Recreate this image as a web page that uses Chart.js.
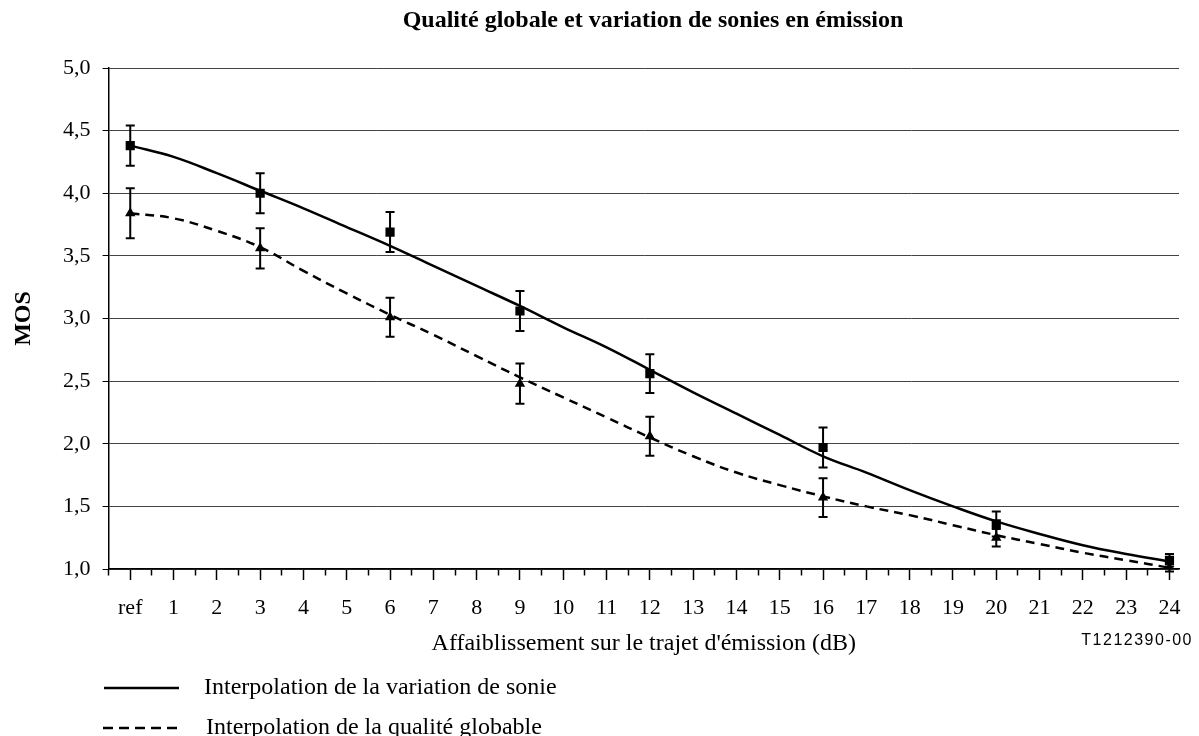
<!DOCTYPE html>
<html>
<head>
<meta charset="utf-8">
<script src="https://cdn.jsdelivr.net/npm/chart.js@4"></script>
<style>
  html, body { margin: 0; padding: 0; background: #fff; }
</style>
</head>
<body>
<canvas id="mosChart" width="1199" height="736"></canvas>
<script>
// Interpolation curves, one value per dB step (0 = ref)
const curveDb = [0, 1, 2, 3, 4, 5, 6, 7, 8, 9, 10, 11, 12, 13, 14, 15, 16, 17, 18, 19, 20, 21, 22, 23, 24];
const sonieCurve = [4.38, 4.29, 4.16, 4.02, 3.88, 3.73, 3.58, 3.42, 3.26, 3.10, 2.93, 2.77, 2.59, 2.41, 2.24, 2.07, 1.90, 1.77, 1.63, 1.50, 1.38, 1.28, 1.19, 1.12, 1.06];
const qualiteCurve = [3.84, 3.80, 3.70, 3.57, 3.38, 3.20, 3.03, 2.87, 2.70, 2.53, 2.37, 2.21, 2.05, 1.90, 1.77, 1.67, 1.58, 1.50, 1.43, 1.35, 1.27, 1.20, 1.13, 1.07, 1.01];

// Measured points with their error bars
const measureDb = [0, 3, 6, 9, 12, 16, 20, 24];
const sonieMos = [4.38, 4.00, 3.69, 3.06, 2.56, 1.97, 1.36, 1.07];
const sonieErr = [0.16, 0.16, 0.16, 0.16, 0.155, 0.16, 0.10, 0.05];
const qualiteMos = [3.84, 3.56, 3.01, 2.48, 2.06, 1.57, 1.25, 1.01];
const qualiteErr = [0.20, 0.16, 0.155, 0.16, 0.155, 0.155, 0.07, 0.03];

const xTickLabels = ['ref', '1', '2', '3', '4', '5', '6', '7', '8', '9', '10', '11', '12', '13', '14', '15', '16', '17', '18', '19', '20', '21', '22', '23', '24'];
const yTickLabels = ['1,0', '1,5', '2,0', '2,5', '3,0', '3,5', '4,0', '4,5', '5,0'];

const SERIF = '"Liberation Serif", "Times New Roman", serif';

const toPoints = (xs, ys) => xs.map((x, i) => ({ x: x, y: ys[i] }));

// vertical error bars with small caps
const errorBars = {
  id: 'errorBars',
  afterDatasetsDraw(chart) {
    const { ctx, scales: { x, y } } = chart;
    ctx.save();
    ctx.strokeStyle = '#000';
    ctx.lineWidth = 2;
    chart.data.datasets.forEach(ds => {
      if (!ds.errors) return;
      ds.data.forEach((p, i) => {
        const px = x.getPixelForValue(p.x);
        const top = y.getPixelForValue(p.y + ds.errors[i]);
        const bot = y.getPixelForValue(p.y - ds.errors[i]);
        ctx.beginPath();
        ctx.moveTo(px, top); ctx.lineTo(px, bot);
        ctx.moveTo(px - 4.5, top); ctx.lineTo(px + 4.5, top);
        ctx.moveTo(px - 4.5, bot); ctx.lineTo(px + 4.5, bot);
        ctx.stroke();
      });
    });
    ctx.restore();
  }
};

// title, legend and figure number
const extras = {
  id: 'extras',
  afterDraw(chart) {
    const ctx = chart.ctx;
    ctx.save();
    ctx.fillStyle = '#000';
    ctx.textAlign = 'center';
    ctx.textBaseline = 'alphabetic';
    ctx.font = 'bold 24px ' + SERIF;
    ctx.fillText('Qualité globale et variation de sonies en émission', 653, 27);

    const rows = [{ y: 688, x0: 104, x1: 179, tx: 204 }, { y: 728, x0: 103, x1: 177, tx: 206 }];
    const curves = chart.data.datasets.filter(d => d.isCurve);
    ctx.textAlign = 'left';
    ctx.font = '24px ' + SERIF;
    curves.forEach((ds, i) => {
      const r = rows[i];
      ctx.beginPath();
      ctx.lineWidth = 2.5;
      ctx.strokeStyle = '#000';
      ctx.setLineDash(ds.borderDash ? [10, 6] : []);
      ctx.moveTo(r.x0, r.y); ctx.lineTo(r.x1, r.y);
      ctx.stroke();
      ctx.setLineDash([]);
      ctx.fillText(ds.label, r.tx, r.y + 6);
    });

    ctx.textAlign = 'right';
    ctx.font = '16px "Liberation Sans", Arial, sans-serif';
    ctx.letterSpacing = '1.5px';
    ctx.fillText('T1212390-00', 1193, 645);
    ctx.restore();
  }
};

new Chart(document.getElementById('mosChart'), {
  type: 'line',
  data: {
    datasets: [
      {
        label: 'Interpolation de la variation de sonie',
        isCurve: true,
        data: toPoints(curveDb, sonieCurve),
        borderColor: '#000', borderWidth: 2.5, tension: 0.4,
        pointRadius: 0, fill: false
      },
      {
        label: 'Interpolation de la qualité globable',
        isCurve: true,
        data: toPoints(curveDb, qualiteCurve),
        borderColor: '#000', borderWidth: 2.5, borderDash: [9, 6], tension: 0.4,
        pointRadius: 0, fill: false
      },
      {
        label: 'Variation de sonie',
        data: toPoints(measureDb, sonieMos),
        errors: sonieErr,
        showLine: false,
        pointStyle: 'rect', pointRadius: 6.5,
        pointBackgroundColor: '#000', pointBorderColor: '#000', pointBorderWidth: 0
      },
      {
        label: 'Qualité globale',
        data: toPoints(measureDb, qualiteMos),
        errors: qualiteErr,
        showLine: false,
        pointStyle: 'triangle', pointRadius: 6,
        pointBackgroundColor: '#000', pointBorderColor: '#000', pointBorderWidth: 0
      }
    ]
  },
  options: {
    responsive: false,
    animation: false,
    layout: { padding: { left: 0, right: 20, top: 68, bottom: 78 } },
    plugins: {
      legend: { display: false },
      tooltip: { enabled: false },
      title: { display: false }
    },
    scales: {
      x: {
        type: 'linear',
        min: -0.5,
        max: 24.22,
        afterFit: s => { s.height = 89; },
        border: { display: true, color: '#000', width: 1.5 },
        grid: {
          drawOnChartArea: false,
          tickLength: 11,
          tickColor: '#000',
          tickWidth: 1.5,
          tickBorderDash: c => (c.tick && Number.isInteger(c.tick.value)) ? [] : [6, 40]
        },
        ticks: {
          stepSize: 0.5,
          includeBounds: false,
          autoSkip: false,
          maxRotation: 0,
          minRotation: 0,
          padding: 15,
          color: '#000',
          font: { family: SERIF, size: 22 },
          callback: v => Number.isInteger(v) ? xTickLabels[v] : ''
        },
        title: {
          display: true,
          text: "Affaiblissement sur le trajet d'émission (dB)",
          color: '#000',
          font: { family: SERIF, size: 24 },
          padding: 0
        }
      },
      y: {
        min: 1,
        max: 5,
        afterFit: s => { s.width = 108.6; },
        border: { display: true, color: '#000', width: 1.5 },
        grid: { color: '#444', lineWidth: 1, tickLength: 6, tickColor: '#000' },
        ticks: {
          stepSize: 0.5,
          padding: 12,
          color: '#000',
          font: { family: SERIF, size: 22 },
          callback: v => yTickLabels[Math.round((v - 1) * 2)]
        },
        title: {
          display: true,
          text: 'MOS',
          color: '#000',
          font: { family: SERIF, size: 24, weight: 'bold' },
          padding: { top: 9, bottom: 0 }
        }
      }
    }
  },
  plugins: [errorBars, extras]
});
</script>
</body>
</html>
